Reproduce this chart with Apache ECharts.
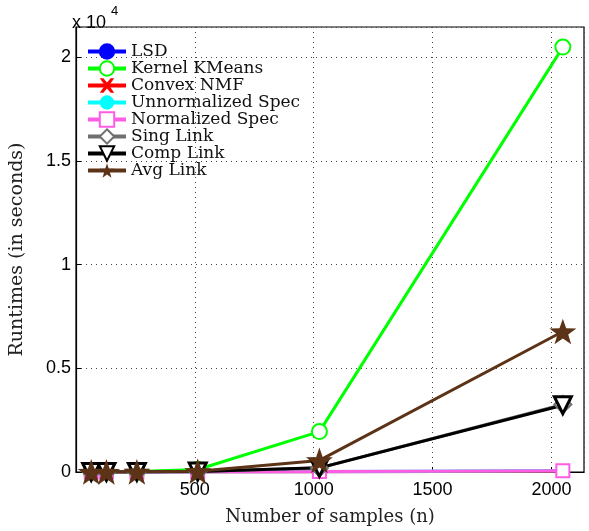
<!DOCTYPE html>
<html>
<head>
<meta charset="utf-8">
<script src="https://cdn.jsdelivr.net/npm/echarts@6/dist/echarts.min.js"></script>
<style>
  html, body { margin: 0; padding: 0; background: #fff; }
  #chart { width: 589px; height: 531px; }
</style>
</head>
<body>
<div id="chart"></div>
<script>
// sample sizes (x) and runtimes in seconds per method
const samples = [64, 128, 256, 512, 1024, 2048]
const lsd = [0.5, 1, 3, 8, 15, 40]
const kernelKMeans = [5, 10, 30, 120, 1950, 20500]
const convexNMF = [0.5, 1, 2, 5, 12, 35]
const unnormSpec = [0.5, 1, 3, 8, 20, 60]
const normSpec = [0.5, 1, 3, 8, 20, 60]
const singLink = [1, 2, 5, 20, 190, 3260]
const compLink = [1, 2, 5, 20, 200, 3220]
const avgLink = [2, 4, 10, 40, 560, 6780]

const xTicks = [500, 1000, 1500, 2000]
const yTicks = [0, 0.5, 1, 1.5, 2]

const STAR = 'path://M0,-10 L2.35,-3.24 L9.51,-3.09 L3.8,1.24 L5.88,8.09 L0,4 L-5.88,8.09 L-3.8,1.24 L-9.51,-3.09 L-2.35,-3.24 Z'
const CROSS = 'path://M0,0 L2.5,0 L5,3 L7.5,0 L10,0 L6.5,5 L10,10 L7.5,10 L5,7 L2.5,10 L0,10 L3.5,5 Z'

function pairs(ys) {
  return samples.map((x, i) => [x, ys[i]])
}

function mk(name, ys, color, symbol, size, opts) {
  return Object.assign({
    name: name,
    type: 'line',
    data: pairs(ys),
    symbol: symbol,
    symbolSize: size,
    symbolKeepAspect: true,
    showAllSymbol: true,
    lineStyle: { color: color, width: 3 },
    itemStyle: { color: color, borderColor: color, borderWidth: 3 },
    emphasis: { disabled: true },
    animation: false
  }, opts || {})
}

const chart = echarts.init(document.getElementById('chart'))

chart.setOption({
  backgroundColor: '#fff',
  animation: false,
  grid: {
    left: 71,
    right: 5,
    top: 27,
    bottom: 51,
    show: true,
    borderColor: '#000',
    borderWidth: 1.2
  },
  legend: {
    orient: 'vertical',
    left: 86,
    top: 43,
    padding: 0,
    itemWidth: 38,
    itemHeight: 18,
    itemGap: 0,
    lineStyle: { width: 4 },
    textStyle: {
      fontFamily: 'DejaVu Serif',
      fontSize: 17,
      lineHeight: 16,
      color: '#111'
    },
    data: ['LSD', 'Kernel KMeans', 'Convex NMF', 'Unnormalized Spec',
      'Normalized Spec', 'Sing Link', 'Comp Link', 'Avg Link']
  },
  graphic: [{
    type: 'text',
    left: 72,
    top: 14,
    style: { text: 'x 10', font: '18px "Liberation Sans"', fill: '#000' }
  }, {
    type: 'text',
    left: 111,
    top: 5,
    style: { text: '4', font: '13px "Liberation Sans"', fill: '#000' }
  }],
  xAxis: {
    type: 'value',
    min: 0,
    max: 2137,
    interval: 500,
    name: 'Number of samples (n)',
    nameLocation: 'middle',
    nameGap: 36,
    nameTextStyle: { fontFamily: 'DejaVu Serif', fontSize: 18, color: '#222' },
    axisLine: { lineStyle: { color: '#000', width: 1.2 } },
    axisTick: { inside: true, length: 5, lineStyle: { color: '#000' } },
    axisLabel: {
      showMinLabel: false,
      showMaxLabel: false,
      fontFamily: 'Liberation Sans',
      fontSize: 18,
      color: '#000',
      margin: 9,
      formatter: v => xTicks.includes(v) ? String(v) : ''
    },
    splitLine: { show: true, lineStyle: { color: '#444', type: [1, 4], width: 1 } }
  },
  yAxis: {
    type: 'value',
    min: 0,
    max: 21470,
    interval: 5000,
    name: 'Runtimes (in seconds)',
    nameLocation: 'middle',
    nameRotate: 90,
    nameGap: 49,
    nameTextStyle: { fontFamily: 'DejaVu Serif', fontSize: 19, color: '#222' },
    axisLine: { show: true, lineStyle: { color: '#000', width: 1.2 } },
    axisTick: { show: true, inside: true, length: 5, lineStyle: { color: '#000' } },
    axisLabel: {
      showMaxLabel: false,
      fontFamily: 'Liberation Sans',
      fontSize: 18,
      color: '#000',
      margin: 5,
      formatter: v => {
        const t = v / 10000
        return yTicks.includes(t) ? String(t) : ''
      }
    },
    splitLine: { show: true, lineStyle: { color: '#444', type: [1, 4], width: 1 } }
  },
  series: [
    mk('LSD', lsd, '#0000ff', 'none', 0),
    mk('Kernel KMeans', kernelKMeans, '#00ff00', 'emptyCircle', 15),
    mk('Convex NMF', convexNMF, '#ff0000', CROSS, 10, { itemStyle: { color: '#ff0000', borderWidth: 0 } }),
    mk('Unnormalized Spec', unnormSpec, '#00ffff', 'circle', 11, { itemStyle: { color: '#00ffff', borderWidth: 0 } }),
    mk('Normalized Spec', normSpec, '#ff5ce6', 'emptyRect', 13),
    mk('Sing Link', singLink, '#707070', 'emptyDiamond', 17),
    mk('Comp Link', compLink, '#000000', 'triangle', 17,
      { symbolRotate: 180, itemStyle: { color: '#fff', borderColor: '#000', borderWidth: 3 } }),
    mk('Avg Link', avgLink, '#5c3317', STAR, 27,
      { itemStyle: { color: '#5c3317', borderWidth: 0 } })
  ]
})
</script>
</body>
</html>
